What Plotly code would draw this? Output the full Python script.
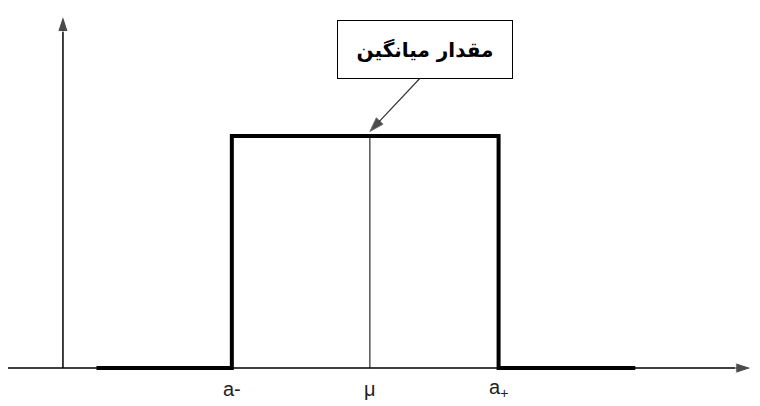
import plotly.graph_objects as go

# step (uniform) profile, mu at 0, a- / a+ at -1 / +1
step_x = [-2.04, -1.03, -1.03, 0.96, 0.96, 1.98]
step_y = [0.0, 0.0, 1.0, 1.0, 0.0, 0.0]
mean_x = [0.0, 0.0]
mean_y = [0.0, 1.0]
tick_x = [-1.03, 0.0, 0.96]
tick_text = ["a-", "μ", "a<sub>+</sub>"]
box_text = "<b>مقدار میانگین</b>"

fig = go.Figure()
fig.add_trace(go.Scatter(x=step_x, y=step_y, mode="lines",
                         line=dict(color="black", width=4), hoverinfo="skip"))
fig.add_trace(go.Scatter(x=mean_x, y=mean_y, mode="lines",
                         line=dict(color="black", width=1), hoverinfo="skip"))

# axes drawn as lines ending in arrow markers
fig.add_trace(go.Scatter(x=[-2.7, 2.85], y=[0, 0], mode="lines+markers",
                         line=dict(color="black", width=1.5),
                         marker=dict(symbol="arrow", angleref="previous", size=[0, 17], color="black"),
                         hoverinfo="skip"))
fig.add_trace(go.Scatter(x=[-2.29, -2.29], y=[0, 1.52], mode="lines+markers",
                         line=dict(color="black", width=1.5),
                         marker=dict(symbol="arrow", angleref="previous", size=[0, 17], color="black"),
                         hoverinfo="skip"))

for tx, tt in zip(tick_x, tick_text):
    fig.add_annotation(x=tx, y=-0.09, xref="x", yref="y", text=tt, showarrow=False,
                       font=dict(family="Liberation Sans", size=20, color="#222"))

# label box and pointer
fig.add_annotation(x=0.41, y=1.375, xref="x", yref="y", text=box_text, showarrow=False,
                   font=dict(family="DejaVu Sans", size=20, color="black"),
                   bordercolor="black", borderwidth=1, bgcolor="white",
                   width=172, height=55)
fig.add_trace(go.Scatter(x=[0.37, 0.0], y=[1.247, 1.02], mode="lines+markers",
                         line=dict(color="#333", width=1.2),
                         marker=dict(symbol="arrow", angleref="previous", size=[0, 15], color="black"),
                         hoverinfo="skip"))

# page body adds 8px offset, ranges shifted to match
fig.update_layout(
    width=760, height=406,
    margin=dict(l=0, r=0, t=0, b=0),
    paper_bgcolor="white", plot_bgcolor="white",
    showlegend=False,
    xaxis=dict(range=[-2.70, 2.97], visible=False, fixedrange=True),
    yaxis=dict(range=[-0.198, 1.552], visible=False, fixedrange=True),
)

fig.write_html("out.html")
